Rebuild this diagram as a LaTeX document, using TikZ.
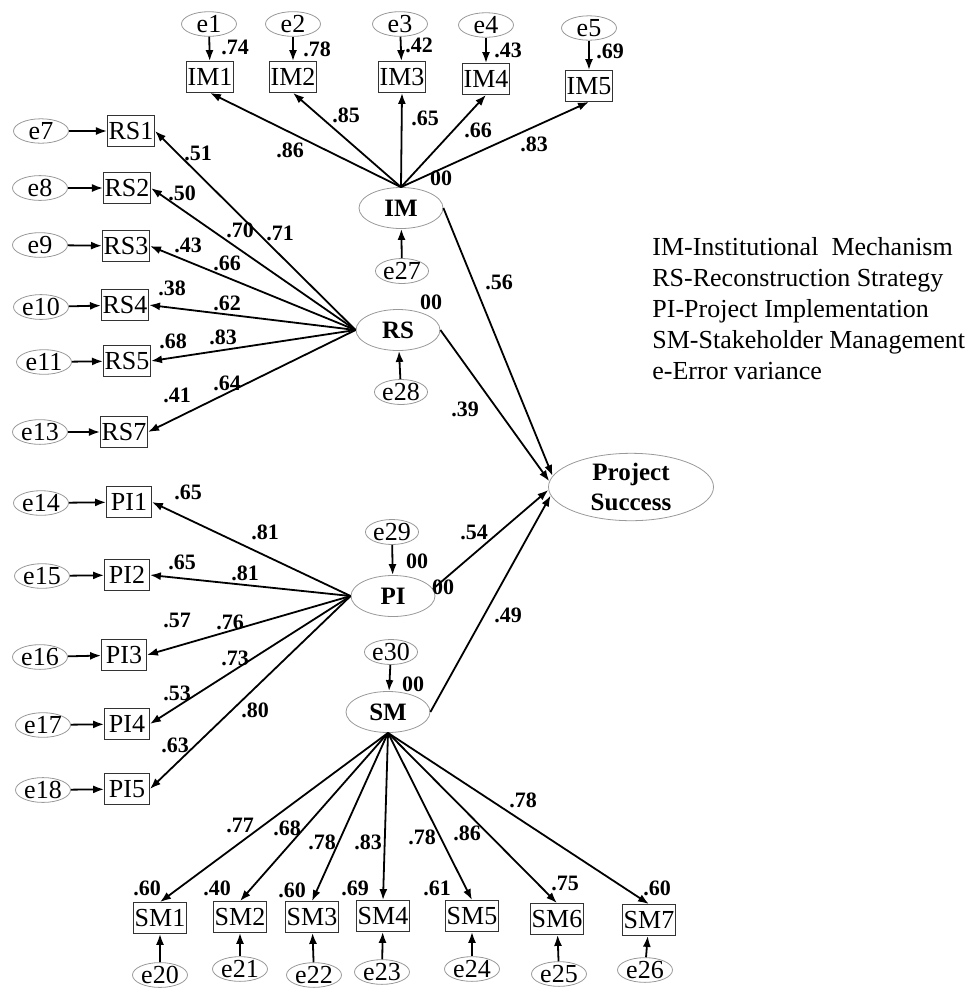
\documentclass[tikz,border=0pt]{standalone}
\usepackage{fontspec}
\setmainfont{Liberation Serif}
\usetikzlibrary{shapes,arrows,arrows.meta,positioning}

\begin{document}
\begin{tikzpicture}[
    x=0.5pt, y=-0.5pt,
    err/.style={ellipse, draw=gray!80, thin, inner sep=0pt, minimum width=27.5pt, minimum height=11pt, font=\fontsize{13}{13}\selectfont},
    errs/.style={err, minimum width=21pt, minimum height=12.5pt},
    latent/.style={ellipse, draw=gray!80, thin, inner sep=0pt, minimum width=42pt, minimum height=20.5pt, font=\fontsize{12.5}{15}\selectfont\bfseries, align=center},
    obs/.style={rectangle, draw=black!80, thin, inner xsep=0.6pt, inner ysep=0pt, minimum width=22.5pt, minimum height=15.5pt, font=\fontsize{13}{13}\selectfont},
    num/.style={inner sep=0pt, font=\fontsize{11}{11}\selectfont\bfseries},
    arrow/.style={->, >={Latex[length=5.5pt,width=4pt]}, line width=0.9pt}
]
    \useasboundingbox (0,0) rectangle (966,992);

    % Latent variables
    \node[latent] (IM) at (401,208) {IM};
    \node[latent] (RS) at (398,330) {RS};
    \node[latent] (PI) at (393,596) {PI};
    \node[latent] (SM) at (388,712) {SM};
    \node[latent, minimum width=82.5pt, minimum height=33.5pt] (PS) at (631,487) {Project\\Success};

    % Disturbances
    \node[errs] (e27) at (402,271) {e27};
    \node[errs] (e28) at (401,392) {e28};
    \node[errs] (e29) at (392,532) {e29};
    \node[errs] (e30) at (391,652) {e30};

    % IM indicators
    \node[obs] (IM1) at (210,77) {IM1};
    \node[obs] (IM2) at (293,77) {IM2};
    \node[obs] (IM3) at (402,77) {IM3};
    \node[obs] (IM4) at (486,79) {IM4};
    \node[obs] (IM5) at (589,86) {IM5};
    \node[err] (e1) at (209,24) {e1};
    \node[err] (e2) at (293,24) {e2};
    \node[err] (e3) at (400,24) {e3};
    \node[err] (e4) at (486,25) {e4};
    \node[err] (e5) at (589,28) {e5};

    % RS indicators
    \node[obs] (RS1) at (131,131) {RS1};
    \node[obs] (RS2) at (127,188) {RS2};
    \node[obs] (RS3) at (126,246) {RS3};
    \node[obs] (RS4) at (125,305) {RS4};
    \node[obs] (RS5) at (127,361) {RS5};
    \node[obs] (RS7) at (124,432) {RS7};
    \node[err] (e7) at (41,131) {e7};
    \node[err] (e8) at (40,188) {e8};
    \node[err] (e9) at (40,245) {e9};
    \node[err] (e10) at (41,307) {e10};
    \node[err] (e11) at (44,362) {e11};
    \node[err] (e13) at (40,432) {e13};

    % PI indicators
    \node[obs] (PI1) at (129,502) {PI1};
    \node[obs] (PI2) at (127,575) {PI2};
    \node[obs] (PI3) at (124,655) {PI3};
    \node[obs] (PI4) at (127,724) {PI4};
    \node[obs] (PI5) at (127,789) {PI5};
    \node[err] (e14) at (41,503) {e14};
    \node[err] (e15) at (42,576) {e15};
    \node[err] (e16) at (40,657) {e16};
    \node[err] (e17) at (43,725) {e17};
    \node[err] (e18) at (43,790) {e18};

    % SM indicators
    \node[obs] (SM1) at (160,918) {SM1};
    \node[obs] (SM2) at (240,917) {SM2};
    \node[obs] (SM3) at (312,917) {SM3};
    \node[obs] (SM4) at (383,916) {SM4};
    \node[obs] (SM5) at (472,916) {SM5};
    \node[obs] (SM6) at (557,919) {SM6};
    \node[obs] (SM7) at (649,920) {SM7};
    \node[err] (e20) at (160,975) {e20};
    \node[err] (e21) at (240,969) {e21};
    \node[err] (e22) at (314,975) {e22};
    \node[err] (e23) at (382,972) {e23};
    \node[err] (e24) at (472,969) {e24};
    \node[err] (e25) at (559,974) {e25};
    \node[err] (e26) at (645,970) {e26};

    % Legend
    \node[anchor=west, align=left, inner sep=0pt, font=\fontsize{13}{15.5}\selectfont] (legend) at (652,309)
        {IM-Institutional\ \ Mechanism\\RS-Reconstruction Strategy\\PI-Project Implementation\\SM-Stakeholder Management\\e-Error variance};

    % Arrows
    \foreach \i in {1,...,5} \draw[arrow] (e\i) -- (IM\i);
    \foreach \i in {1,...,5} \draw[arrow] (IM.north) -- (IM\i.south);
    \foreach \e/\i in {7/1,8/2,9/3,10/4,11/5,13/7} {
        \draw[arrow] (e\e) -- (RS\i);
        \draw[arrow] (RS.west) -- (RS\i.east);
    }
    \foreach \e/\i in {14/1,15/2,16/3,17/4,18/5} {
        \draw[arrow] (e\e) -- (PI\i);
        \draw[arrow] (PI.west) -- (PI\i.east);
    }
    \foreach \e/\i in {20/1,21/2,22/3,23/4,24/5,25/6,26/7} {
        \draw[arrow] (e\e) -- (SM\i);
        \draw[arrow] (SM.south) -- (SM\i.north);
    }
    \draw[arrow] (e27) -- (IM);
    \draw[arrow] (e28) -- (RS);
    \draw[arrow] (e29) -- (PI);
    \draw[arrow] (e30) -- (SM);
    \draw[arrow] (IM.east) -- (PS.172);
    \draw[arrow] (RS.east) -- (PS.176);
    \draw[arrow] (PI.10) -- (PS.182);
    \draw[arrow] (SM.east) -- (PS.186);

    % Estimates: IM
    \node[num] (vIM1) at (235,47) {.74};
    \node[num] (vIM2) at (317,49) {.78};
    \node[num] (vIM3) at (419,45) {.42};
    \node[num] (vIM4) at (508,50) {.43};
    \node[num] (vIM5) at (610,51) {.69};
    \node[num] (lIM1) at (290,150) {.86};
    \node[num] (lIM2) at (346,115) {.85};
    \node[num] (lIM3) at (425,118) {.65};
    \node[num] (lIM4) at (478,130) {.66};
    \node[num] (lIM5) at (534,144) {.83};
    \node[num] (mIM) at (441,178) {00};

    % Estimates: RS
    \node[num] (vRS1) at (198,153) {.51};
    \node[num] (vRS2) at (182,193) {.50};
    \node[num] (vRS3) at (188,245) {.43};
    \node[num] (vRS4) at (172,288) {.38};
    \node[num] (vRS5) at (173,341) {.68};
    \node[num] (vRS7) at (177,395) {.41};
    \node[num] (lRS1) at (280,233) {.71};
    \node[num] (lRS2) at (240,230) {.70};
    \node[num] (lRS3) at (227,263) {.66};
    \node[num] (lRS4) at (227,303) {.62};
    \node[num] (lRS5) at (223,337) {.83};
    \node[num] (lRS7) at (227,383) {.64};
    \node[num] (mRS) at (431,302) {00};

    % Estimates: PI
    \node[num] (vPI1) at (188,492) {.65};
    \node[num] (vPI2) at (182,562) {.65};
    \node[num] (vPI3) at (177,620) {.57};
    \node[num] (vPI4) at (177,693) {.53};
    \node[num] (vPI5) at (175,745) {.63};
    \node[num] (lPI1) at (265,532) {.81};
    \node[num] (lPI2) at (245,573) {.81};
    \node[num] (lPI3) at (230,622) {.76};
    \node[num] (lPI4) at (235,658) {.73};
    \node[num] (lPI5) at (255,710) {.80};
    \node[num] (mPI) at (417,561) {00};
    \node[num] (iPI) at (443,587) {00};

    % Estimates: SM
    \node[num] (lSM1) at (240,825) {.77};
    \node[num] (lSM2) at (287,828) {.68};
    \node[num] (lSM3) at (322,842) {.78};
    \node[num] (lSM4) at (368,842) {.83};
    \node[num] (lSM5) at (422,837) {.78};
    \node[num] (lSM6) at (467,833) {.86};
    \node[num] (lSM7) at (523,800) {.78};
    \node[num] (vSM1) at (147,888) {.60};
    \node[num] (vSM2) at (217,888) {.40};
    \node[num] (vSM3) at (292,890) {.60};
    \node[num] (vSM4) at (355,888) {.69};
    \node[num] (vSM5) at (437,888) {.61};
    \node[num] (vSM6) at (565,883) {.75};
    \node[num] (vSM7) at (657,888) {.60};
    \node[num] (mSM) at (413,684) {00};

    % Structural paths
    \node[num] (pIM) at (499,282) {.56};
    \node[num] (pRS) at (465,409) {.39};
    \node[num] (pPI) at (474,532) {.54};
    \node[num] (pSM) at (508,615) {.49};
\end{tikzpicture}
\end{document}
